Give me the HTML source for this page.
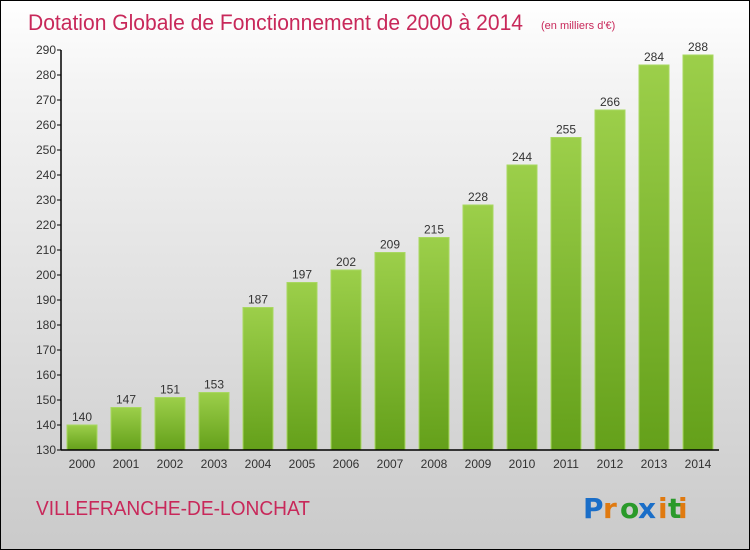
<!DOCTYPE html>
<html><head><meta charset="utf-8"><style>
body{margin:0}
#wrap{position:relative;width:748px;height:548px;border:1px solid #000;background:linear-gradient(#fff,#f4f4f4 15%,#cacaca);font-family:"Liberation Sans",sans-serif;overflow:hidden}
</style></head><body>
<div id="wrap">
<svg id="svg" width="748" height="548">
<defs><linearGradient id="g" x1="0" y1="0" x2="0" y2="1"><stop offset="0" stop-color="#9ccf4a"/><stop offset="1" stop-color="#64a01a"/></linearGradient></defs>
<text x="27" y="29" font-size="22" fill="#c8285a" textLength="495" lengthAdjust="spacingAndGlyphs">Dotation Globale de Fonctionnement de 2000 à 2014</text>
<text x="540" y="28" font-size="11" fill="#c8285a">(en milliers d'€)</text>
<text x="35" y="514" font-size="20" fill="#c8285a" textLength="274" lengthAdjust="spacingAndGlyphs">VILLEFRANCHE-DE-LONCHAT</text>
<g font-size="28" font-family="'DejaVu Sans',sans-serif" font-weight="bold">
<text x="582" y="517" fill="#1a6ec8">P</text><text x="602" y="517" fill="#e07a10">r</text><text x="619" y="517" fill="#2a9a2a">o</text><text x="637" y="517" fill="#1a6ec8">x</text><text x="657" y="517" fill="#e07a10">i</text><text x="667" y="517" fill="#2a9a2a">t</text><text x="677" y="517" fill="#e07a10">i</text>
</g>
<g id="plot"></g>
</svg></div>
<script>
const categories=["2000","2001","2002","2003","2004","2005","2006","2007","2008","2009","2010","2011","2012","2013","2014"];
const values=[140,147,151,153,187,197,202,209,215,228,244,255,266,284,288];
const yTicks=[130,140,150,160,170,180,190,200,210,220,230,240,250,260,270,280,290];
const ns="http://www.w3.org/2000/svg";
const plot=document.getElementById('plot');
const y0=449,yMin=130,yMax=290,yTop=49;
const y=v=>y0-(v-yMin)/(yMax-yMin)*(y0-yTop);
const x=i=>66+i*44;
function mk(t,a){const e=document.createElementNS(ns,t);for(const k in a)e.setAttribute(k,a[k]);plot.appendChild(e);return e;}
categories.forEach((c,i)=>{
 const r=mk('rect',{x:x(i),y:y(values[i]),width:30,height:y0-y(values[i]),fill:'url(#g)',stroke:'#a8d860','stroke-width':1});
 
 
 const t=mk('text',{x:x(i)+15,y:y(values[i])-4,'font-size':12,fill:'#333','text-anchor':'middle'});t.textContent=values[i];
 
 
 const l=mk('text',{x:x(i)+15,y:467,'font-size':12,fill:'#333','text-anchor':'middle'});l.textContent=c;
 
 
});
yTicks.forEach(v=>{
 mk('line',{x1:56,x2:60,y1:y(v),y2:y(v),stroke:'#000'});
 const t=mk('text',{x:55,y:y(v)+4,'font-size':12,fill:'#333','text-anchor':'end'});t.textContent=v;
 
 
});
const ya=mk('line',{x1:60,x2:60,y1:yTop,y2:y0,stroke:'#000','stroke-width':1.5});


const xa=mk('line',{x1:60,x2:718,y1:y0,y2:y0,stroke:'#000','stroke-width':1.5});


</script>
</body></html>
